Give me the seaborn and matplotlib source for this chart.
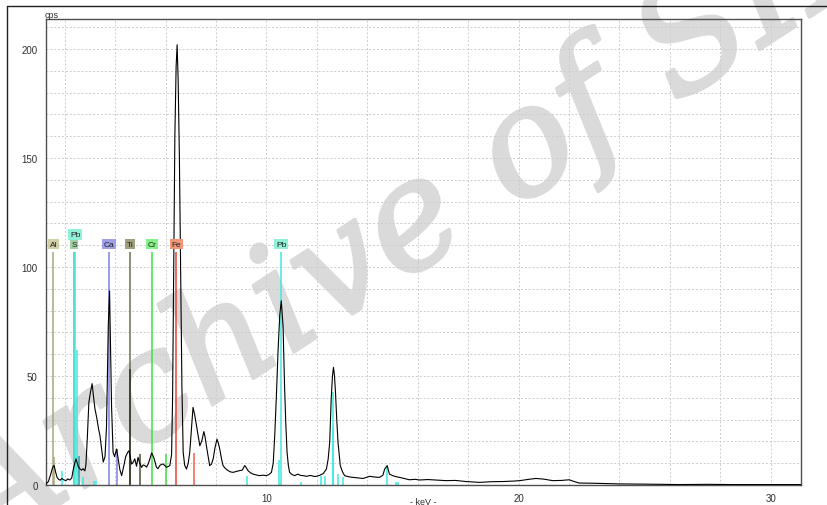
import numpy as np
import pandas as pd
import seaborn as sns
import matplotlib
import matplotlib.pyplot as plt
import matplotlib.patheffects as pe
from matplotlib.ticker import MultipleLocator
from matplotlib.lines import Line2D

# spectrum (keV, cps)
energy_kev = [1.26, 1.35, 1.45, 1.52, 1.58, 1.64, 1.70, 1.75, 1.82, 1.89,
              1.96, 2.05, 2.12, 2.20, 2.28, 2.34, 2.41, 2.45, 2.50, 2.54,
              2.60, 2.67, 2.73, 2.80, 2.84, 2.90, 2.96, 3.03, 3.09, 3.14,
              3.20, 3.27, 3.34, 3.40, 3.47, 3.53, 3.60, 3.66, 3.70, 3.73,
              3.78, 3.82, 3.86, 3.92, 3.98, 4.06, 4.12, 4.19, 4.26, 4.35,
              4.42, 4.50, 4.55, 4.60, 4.65, 4.72, 4.78, 4.85, 4.91, 4.98,
              5.05, 5.11, 5.18, 5.25, 5.31, 5.38, 5.45, 5.50, 5.55, 5.64,
              5.70, 5.77, 5.84, 5.91, 5.98, 6.04, 6.11, 6.17, 6.24, 6.28,
              6.32, 6.37, 6.42, 6.46, 6.50, 6.55, 6.60, 6.65, 6.70, 6.76,
              6.83, 6.90, 6.96, 7.03, 7.09, 7.16, 7.23, 7.30, 7.36, 7.44,
              7.52, 7.57, 7.62, 7.69, 7.75, 7.82, 7.89, 7.96, 8.04, 8.10,
              8.15, 8.22, 8.28, 8.38, 8.48, 8.58, 8.68, 8.80, 8.94, 9.04,
              9.14, 9.20, 9.27, 9.37, 9.47, 9.60, 9.73, 9.86, 10.00, 10.10,
              10.20, 10.27, 10.33, 10.40, 10.46, 10.53, 10.59, 10.66, 10.72, 10.77,
              10.82, 10.87, 10.92, 11.02, 11.12, 11.25, 11.35, 11.45, 11.60, 11.75,
              11.90, 11.98, 12.10, 12.25, 12.38, 12.45, 12.51, 12.57, 12.62, 12.66,
              12.70, 12.74, 12.79, 12.84, 12.93, 13.02, 13.10, 13.25, 13.43, 13.60,
              13.83, 14.00, 14.09, 14.25, 14.49, 14.62, 14.69, 14.79, 14.88, 15.01,
              15.15, 15.28, 15.45, 15.67, 15.90, 16.07, 16.40, 16.80, 17.13, 17.50,
              17.90, 18.45, 18.90, 19.40, 19.80, 20.05, 20.40, 20.69, 21.00, 21.35,
              21.70, 22.01, 22.20, 22.41, 23.00, 24.00, 25.00, 26.37, 27.50, 28.50,
              29.50, 30.50, 31.20]
counts_cps = [0.5, 1.5, 5.0, 8.0, 9.0, 6.0, 3.5, 2.7, 2.2, 3.0,
              2.4, 2.0, 2.8, 2.3, 3.2, 7.0, 10.5, 12.0, 10.0, 8.5,
              7.5, 6.8, 7.5, 6.5, 9.0, 22.0, 38.0, 43.0, 46.5, 41.0,
              35.0, 31.0, 26.0, 22.6, 16.0, 10.5, 13.0, 27.0, 55.0, 73.0,
              89.0, 62.0, 36.0, 15.0, 13.0, 16.5, 12.0, 7.0, 4.3, 9.0,
              13.0, 15.0, 15.7, 13.0, 9.6, 10.5, 12.0, 8.6, 12.7, 10.0,
              8.1, 9.2, 8.9, 8.2, 9.6, 12.0, 14.7, 13.5, 12.0, 8.1,
              7.5, 8.9, 9.5, 9.6, 8.8, 8.1, 8.5, 8.9, 14.0, 40.0,
              95.0, 160.0, 192.0, 202.0, 186.0, 150.0, 98.0, 45.0, 15.0, 9.0,
              7.3, 10.0, 15.0, 26.0, 35.6, 32.0, 27.0, 22.0, 18.0, 20.3,
              24.5, 22.0, 18.0, 13.0, 8.9, 9.5, 12.0, 17.0, 21.0, 19.0,
              16.5, 12.0, 8.9, 7.5, 6.6, 6.0, 5.8, 6.2, 6.6, 6.8,
              8.9, 8.0, 6.6, 5.6, 5.0, 4.6, 4.3, 4.5, 4.3, 4.8,
              5.8, 10.0, 22.6, 42.0, 61.0, 78.0, 84.5, 73.0, 45.5, 28.0,
              15.0, 9.0, 5.8, 4.8, 4.3, 5.0, 4.4, 4.3, 4.0, 4.4,
              3.9, 4.0, 4.4, 5.2, 7.3, 12.0, 19.6, 39.4, 50.0, 54.0,
              50.0, 42.5, 30.0, 19.6, 8.9, 6.0, 4.3, 3.8, 3.5, 3.3,
              3.0, 3.6, 4.0, 3.7, 3.5, 4.5, 7.3, 8.9, 5.0, 4.3,
              3.8, 3.5, 3.0, 2.4, 2.6, 2.3, 2.5, 2.2, 2.0, 2.1,
              1.6, 1.2, 1.5, 1.6, 1.8, 2.0, 2.6, 3.0, 2.7, 2.0,
              2.1, 2.4, 1.6, 0.9, 0.8, 0.5, 0.4, 0.2, 0.3, 0.2,
              0.2, 0.2, 0.2]

# element markers (tall lines with labels)
element_names = ['Al', 'S', 'Pb', 'Ca', 'Ti', 'Cr', 'Fe', 'Pb']
element_kev = [1.55, 2.37, 2.42, 3.74, 4.59, 5.47, 6.43, 10.59]
element_label_cps = [110.5, 110.5, 115.0, 110.5, 110.5, 110.5, 110.5, 110.5]
element_line_cps = [107, 107, 107, 107, 107, 107, 107, 107]
element_line_colors = ['#a8a880', '#50c8a0', '#40e8e0', '#8080e0', '#707050', '#40e040', '#f04030', '#40e8e0']
element_box_colors = ['#cfcfa8', '#a0d0a8', '#90f0d8', '#a0a0e8', '#a0a080', '#88f088', '#f09878', '#90f0d8']

# secondary lines of each element
minor_kev = [1.58, 1.90, 2.50, 2.55, 2.71, 3.16, 3.24, 4.06, 4.59, 4.98,
             6.02, 7.12, 9.25, 10.50, 11.39, 12.18, 12.31, 12.64, 12.66, 12.84,
             13.03, 14.79, 15.12, 15.22]
minor_cps = [13.0, 6.6, 62.0, 13.4, 3.7, 2.0, 2.0, 16.5, 53.0, 14.0,
             14.0, 14.7, 4.3, 11.6, 1.4, 4.3, 4.3, 26.6, 42.6, 5.0,
             3.5, 8.6, 1.5, 1.5]
minor_colors = ['#a8a880', '#40e8e0', '#40e8e0', '#20a0a0', '#40e8e0', '#40e8e0', '#40e8e0', '#8080e0', '#303020', '#505030',
                '#40e040', '#f06050', '#40e8e0', '#40e8e0', '#40e8e0', '#40e8e0', '#40e8e0', '#40e8e0', '#40e8e0', '#40e8e0',
                '#40e8e0', '#40e8e0', '#40e8e0', '#40e8e0']

W, H = 827, 506
sns.set_style('white')
plt.rcParams['font.family'] = ['Liberation Sans', 'DejaVu Sans']

fig = plt.figure(figsize=(W / 100, H / 100), dpi=100)
ax = fig.add_axes([46 / W, 20 / H, (801 - 46) / W, (486 - 20) / H])

# watermark, under grid and tick labels
ax.text(0.515, 0.57, 'Archive of SID', transform=fig.transFigure, rotation=33,
        rotation_mode='anchor', fontsize=108, color='#dadada', family='DejaVu Serif',
        style='italic', ha='center', va='center', zorder=0.3, clip_on=False,
        path_effects=[pe.withStroke(linewidth=2.5, foreground='#dadada')])

ax.vlines(element_kev, 0, element_line_cps, colors=element_line_colors, lw=1.1, zorder=2)
ax.vlines(minor_kev, 0, minor_cps, colors=minor_colors, lw=1.1, zorder=2)

spec = pd.DataFrame({'keV': energy_kev, 'cps': counts_cps})
sns.lineplot(data=spec, x='keV', y='cps', color='black', lw=0.8, ax=ax, zorder=3)

for name, e, c, bc in zip(element_names, element_kev, element_label_cps, element_box_colors):
    ax.text(e, c, name, ha='center', va='center', fontsize=6, color='#202020', zorder=4,
            bbox=dict(boxstyle='square,pad=0.2', fc=bc, ec='none'))

ax.set_xlim(1.26, 31.2)
ax.set_ylim(0, 213.8)
ax.xaxis.set_major_locator(MultipleLocator(10))
ax.xaxis.set_minor_locator(MultipleLocator(2))
ax.yaxis.set_major_locator(MultipleLocator(50))
ax.yaxis.set_minor_locator(MultipleLocator(10))
ax.grid(True, which='both', color='#cccccc', ls=(0, (2, 2)), lw=0.7)
ax.set_axisbelow(True)
ax.tick_params(which='major', direction='out', length=4, width=0.8, labelsize=7, colors='#303030', pad=2)
ax.tick_params(which='minor', direction='out', length=2.5, width=0.7, colors='#303030')
ax.set_xlabel('')
ax.set_ylabel('')
for s in ax.spines.values():
    s.set_color('#505050')
    s.set_linewidth(1.0)

fig.text(52 / W, 1 - 15 / H, 'cps', ha='center', va='center', fontsize=6.5, color='#303030')
fig.text(423 / W, 1 - 503 / H, '- keV -', ha='center', va='center', fontsize=6.5, color='#303030')

# outer frame, top and left edges
fig.add_artist(Line2D([7 / W, 7 / W], [0, 1 - 7 / H], color='#202020', lw=1.0))
fig.add_artist(Line2D([7 / W, 1], [1 - 7 / H, 1 - 7 / H], color='#202020', lw=1.0))

fig.savefig('out.png', dpi=100)
